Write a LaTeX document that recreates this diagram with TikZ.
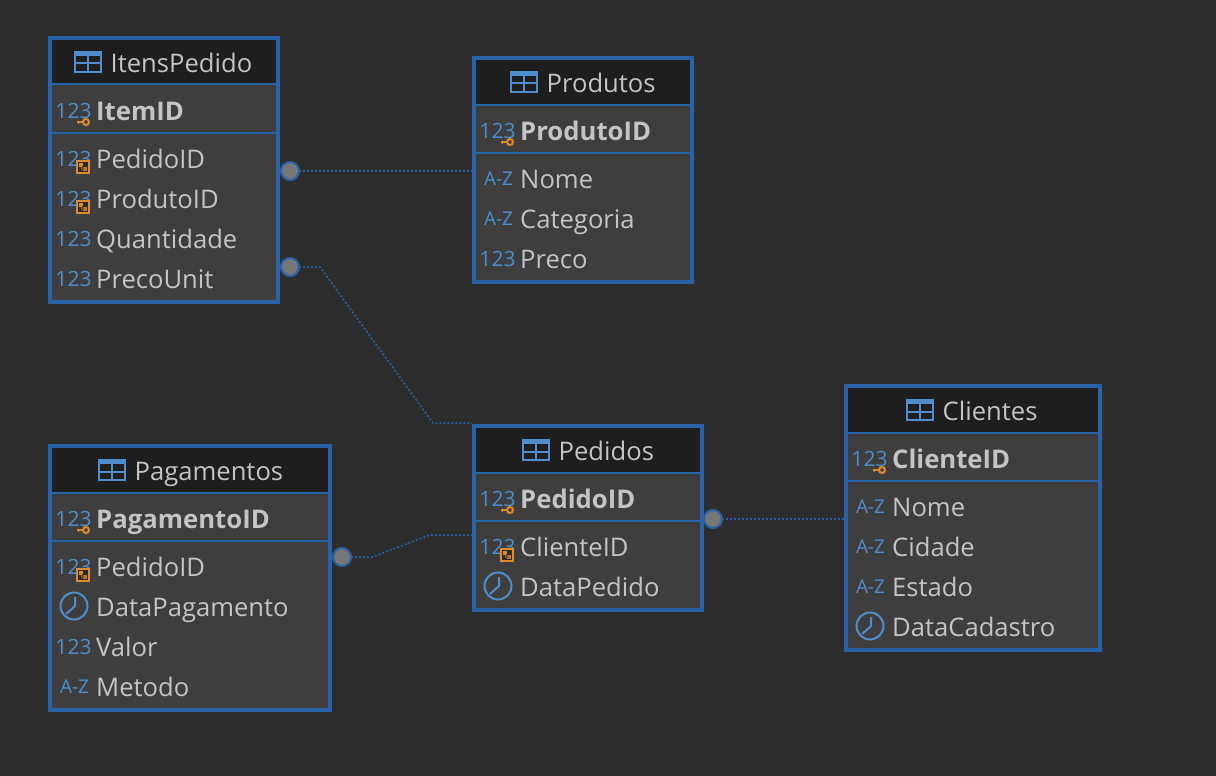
\documentclass[tikz,border=0pt]{standalone}
\usepackage{fontspec}
\setmainfont{Open Sans}
\definecolor{bgcol}{HTML}{2D2D2D}
\definecolor{rowcol}{HTML}{3E3E3E}
\definecolor{headcol}{HTML}{1E1E1E}
\definecolor{framecol}{HTML}{2A62A8}
\definecolor{iconcol}{HTML}{4F8DCC}
\definecolor{keycol}{HTML}{E08A2E}
\definecolor{txtcol}{HTML}{C4C4C4}
\definecolor{dotcol}{HTML}{777777}
\tikzset{
    tblbox/.style={draw=framecol,fill=rowcol,line width=4pt,inner sep=0pt,outer sep=0pt,anchor=north west},
    headtxt/.style={text=txtcol,inner sep=0pt,anchor=base west,xshift=-.5pt,yshift=-.5pt,font=\fontsize{25.6}{30}\selectfont},
    coltxt/.style={text=txtcol,inner sep=0pt,anchor=base west,xshift=-1pt,font=\fontsize{25.6}{30}\selectfont},
    pktxt/.style={coltxt,font=\fontsize{25.7}{30}\selectfont\bfseries},
    icontxt/.style={text=iconcol,inner sep=0pt,font=\fontsize{21}{24}\selectfont},
    aztxt/.style={icontxt,font=\fontsize{19}{24}\selectfont},
    reldot/.style={circle,draw=framecol,fill=dotcol,line width=2pt,minimum size=18pt,inner sep=0pt,outer sep=0pt},
    relline/.style={draw=framecol,line width=1.5pt,dash pattern=on 2pt off 2pt}
}
% box of one table: name, x, y, width, height
\newcommand{\tblBox}[5]{
    \node[tblbox,minimum width=#4pt,minimum height=#5pt] (#1) at (#2,#3) {};
    \fill[headcol] (#2+2,#3+2) rectangle (#2+#4-2,#3+46);
    \draw[framecol,line width=2pt] (#2,#3+46.5) -- (#2+#4,#3+46.5);
    \draw[framecol,line width=2pt] (#2,#3+95) -- (#2+#4,#3+95);
}
% left edge and centre height of the small table icon
\newcommand{\tblIcon}[2]{
    \fill[iconcol] (#1,#2-11) rectangle (#1+28,#2-6);
    \draw[iconcol,line width=2pt] (#1+1,#2-8) rectangle (#1+27,#2+10);
    \draw[iconcol,line width=2pt] (#1+14,#2-8) -- (#1+14,#2+10);
    \draw[iconcol,line width=2pt] (#1,#2+1.5) -- (#1+28,#2+1.5);
}
% the icons below take the centre of the 123 mark
\newcommand{\keyIcon}[2]{
    \draw[keycol,line width=2pt] (#1+13,#2+12) circle (3pt);
    \draw[keycol,line width=2pt] (#1+3.5,#2+12) -- (#1+10,#2+12);
    \draw[keycol,line width=1.5pt] (#1+5.5,#2+12) -- (#1+5.5,#2+14);
}
\newcommand{\fkIcon}[2]{
    \fill[rowcol!70!black] (#1+4,#2+2) rectangle (#1+16,#2+14);
    \draw[keycol,line width=2pt] (#1+4,#2+2) rectangle (#1+16,#2+14);
    \fill[keycol] (#1+6,#2+4) rectangle (#1+10,#2+7);
    \fill[keycol] (#1+6,#2+4) rectangle (#1+9,#2+8);
    \fill[keycol!85!black] (#1+10,#2+8) rectangle (#1+14,#2+12);
    \fill[keycol!60!black] (#1+8,#2+8) rectangle (#1+11,#2+11);
}
\newcommand{\clockIcon}[2]{
    \draw[iconcol,line width=2pt] (#1,#2) circle (13.5pt);
    \draw[iconcol,line width=2pt] (#1+1,#2-9) -- (#1+1,#2) -- (#1-8,#2+8);
}
\begin{document}
\begin{tikzpicture}[x=1pt,y=-1pt]
    \fill[bgcol] (0,0) rectangle (1216,776);
    \useasboundingbox (0,0) rectangle (1216,776);

    % ItensPedido
    \tblBox{itens}{50}{38}{228}{264}
    \tblIcon{74}{62}
    \node[headtxt] (itensHead) at (111,72) {ItensPedido};
    \node[icontxt] (itemNum) at (73.5,111) {123};
    \keyIcon{73}{110}
    \node[pktxt] (itemId) at (97,120) {ItemID};
    \node[icontxt] (itensPedNum) at (73.5,159) {123};
    \fkIcon{73}{159}
    \node[coltxt] (itensPed) at (97,168) {PedidoID};
    \node[icontxt] (itensProdNum) at (73.5,199) {123};
    \fkIcon{73}{199}
    \node[coltxt] (itensProd) at (97,208) {ProdutoID};
    \node[icontxt] (itensQtdNum) at (73.5,239) {123};
    \node[coltxt] (itensQtd) at (97,248) {Quantidade};
    \node[icontxt] (itensPrecoNum) at (73.5,279) {123};
    \node[coltxt] (itensPreco) at (97,288) {PrecoUnit};

    % Produtos
    \tblBox{produtos}{474}{58}{218}{224}
    \tblIcon{510}{82}
    \node[headtxt] (produtosHead) at (547,92) {Produtos};
    \node[icontxt] (prodNum) at (497.5,131) {123};
    \keyIcon{497}{130}
    \node[pktxt] (prodId) at (521,140) {ProdutoID};
    \node[aztxt] (prodNomeAz) at (498.5,179) {A-Z};
    \node[coltxt] (prodNome) at (521,188) {Nome};
    \node[aztxt] (prodCatAz) at (498.5,219) {A-Z};
    \node[coltxt] (prodCat) at (521,228) {Categoria};
    \node[icontxt] (prodPrecoNum) at (497.5,259) {123};
    \node[coltxt] (prodPreco) at (521,268) {Preco};

    % Pedidos
    \tblBox{pedidos}{474}{426}{228}{184}
    \tblIcon{522}{450}
    \node[headtxt] (pedidosHead) at (559,460) {Pedidos};
    \node[icontxt] (pedNum) at (497.5,499) {123};
    \keyIcon{497}{498}
    \node[pktxt] (pedId) at (521,508) {PedidoID};
    \node[icontxt] (pedCliNum) at (497.5,547) {123};
    \fkIcon{497}{547}
    \node[coltxt] (pedCli) at (521,556) {ClienteID};
    \clockIcon{498}{586}
    \node[coltxt] (pedData) at (521,596) {DataPedido};

    % Pagamentos
    \tblBox{pagamentos}{50}{446}{280}{264}
    \tblIcon{98}{470}
    \node[headtxt] (pagamentosHead) at (135,480) {Pagamentos};
    \node[icontxt] (pagNum) at (73.5,519) {123};
    \keyIcon{73}{518}
    \node[pktxt] (pagId) at (97,528) {PagamentoID};
    \node[icontxt] (pagPedNum) at (73.5,567) {123};
    \fkIcon{73}{567}
    \node[coltxt] (pagPed) at (97,576) {PedidoID};
    \clockIcon{74}{606}
    \node[coltxt] (pagData) at (97,616) {DataPagamento};
    \node[icontxt] (pagValorNum) at (73.5,647) {123};
    \node[coltxt] (pagValor) at (97,656) {Valor};
    \node[aztxt] (pagMetodoAz) at (74.5,687) {A-Z};
    \node[coltxt] (pagMetodo) at (97,696) {Metodo};

    % Clientes
    \tblBox{clientes}{846}{386}{254}{264}
    \tblIcon{906}{410}
    \node[headtxt] (clientesHead) at (943,420) {Clientes};
    \node[icontxt] (cliNum) at (869.5,459) {123};
    \keyIcon{869}{458}
    \node[pktxt] (cliId) at (893,468) {ClienteID};
    \node[aztxt] (cliNomeAz) at (870.5,507) {A-Z};
    \node[coltxt] (cliNome) at (893,516) {Nome};
    \node[aztxt] (cliCidAz) at (870.5,547) {A-Z};
    \node[coltxt] (cliCid) at (893,556) {Cidade};
    \node[aztxt] (cliEstAz) at (870.5,587) {A-Z};
    \node[coltxt] (cliEst) at (893,596) {Estado};
    \clockIcon{870}{626}
    \node[coltxt] (cliData) at (893,636) {DataCadastro};

    % relations
    \node[reldot] (dotItensProd) at (290,171) {};
    \node[reldot] (dotItensPed) at (290,267) {};
    \node[reldot] (dotPagPed) at (342,557) {};
    \node[reldot] (dotPedCli) at (713,519) {};
    \coordinate (itensA) at (320,267);
    \coordinate (itensB) at (433,423);
    \coordinate (itensEnd) at (472,423);
    \coordinate (pagA) at (372,557);
    \coordinate (pagB) at (430,535);
    \coordinate (pagEnd) at (472,535);
    \draw[relline,shorten >=2pt] (dotItensProd) -- (produtos.west |- dotItensProd);
    \draw[relline] (dotItensPed) -- (itensA) -- (itensB) -- (itensEnd);
    \draw[relline] (dotPagPed) -- (pagA) -- (pagB) -- (pagEnd);
    \draw[relline,shorten >=2pt] (dotPedCli) -- (clientes.west |- dotPedCli);
\end{tikzpicture}
\end{document}
